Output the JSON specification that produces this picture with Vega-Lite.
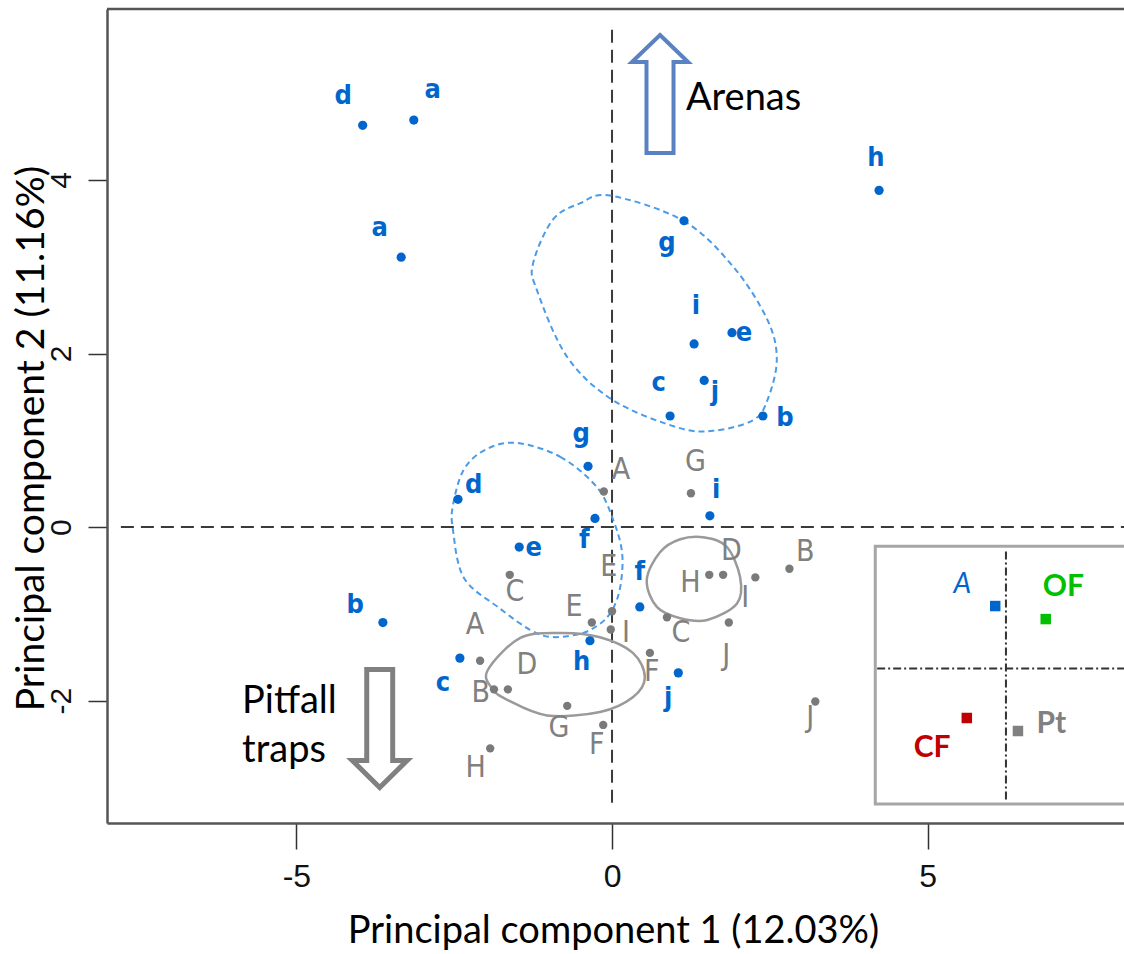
{
  "$schema": "https://vega.github.io/schema/vega-lite/v6.json",
  "width": 1017,
  "height": 814,
  "autosize": {"type": "none"},
  "padding": {"left": 107, "top": 9, "right": 0, "bottom": 131},
  "background": "white",
  "data": {"values": [{}]},
  "config": {
    "view": {"stroke": null},
    "axis": {"grid": false}
  },
  "datasets": {
    "arenas": [
      {"label": "d", "x": -3.95, "y": 4.63, "lx": -4.26, "ly": 4.97},
      {"label": "a", "x": -3.14, "y": 4.69, "lx": -2.84, "ly": 5.04},
      {"label": "a", "x": -3.34, "y": 3.11, "lx": -3.68, "ly": 3.45},
      {"label": "h", "x": 4.23, "y": 3.88, "lx": 4.18, "ly": 4.25},
      {"label": "g", "x": 1.14, "y": 3.53, "lx": 0.87, "ly": 3.27},
      {"label": "i", "x": 1.30, "y": 2.11, "lx": 1.33, "ly": 2.55},
      {"label": "e", "x": 1.90, "y": 2.24, "lx": 2.09, "ly": 2.24},
      {"label": "j", "x": 1.46, "y": 1.69, "lx": 1.63, "ly": 1.56},
      {"label": "c", "x": 0.92, "y": 1.28, "lx": 0.74, "ly": 1.66},
      {"label": "b", "x": 2.39, "y": 1.28, "lx": 2.74, "ly": 1.26},
      {"label": "g", "x": -0.38, "y": 0.70, "lx": -0.49, "ly": 1.07},
      {"label": "d", "x": -2.44, "y": 0.32, "lx": -2.19, "ly": 0.48},
      {"label": "f", "x": -0.27, "y": 0.10, "lx": -0.44, "ly": -0.15},
      {"label": "i", "x": 1.55, "y": 0.13, "lx": 1.65, "ly": 0.43},
      {"label": "e", "x": -1.47, "y": -0.23, "lx": -1.24, "ly": -0.24},
      {"label": "b", "x": -3.63, "y": -1.10, "lx": -4.07, "ly": -0.90},
      {"label": "f", "x": 0.44, "y": -0.92, "lx": 0.44, "ly": -0.52},
      {"label": "h", "x": -0.35, "y": -1.31, "lx": -0.48, "ly": -1.56},
      {"label": "c", "x": -2.41, "y": -1.51, "lx": -2.68, "ly": -1.80},
      {"label": "j", "x": 1.05, "y": -1.68, "lx": 0.89, "ly": -1.97}
    ],
    "pitfall": [
      {"label": "A", "x": -0.13, "y": 0.41, "lx": 0.14, "ly": 0.66},
      {"label": "G", "x": 1.25, "y": 0.39, "lx": 1.32, "ly": 0.75},
      {"label": "H", "x": 1.54, "y": -0.55, "lx": 1.24, "ly": -0.65},
      {"label": "D", "x": 1.76, "y": -0.55, "lx": 1.89, "ly": -0.28},
      {"label": "B", "x": 2.81, "y": -0.48, "lx": 3.06, "ly": -0.29},
      {"label": "I", "x": 2.27, "y": -0.58, "lx": 2.11, "ly": -0.82},
      {"label": "C", "x": -1.62, "y": -0.55, "lx": -1.54, "ly": -0.75},
      {"label": "E", "x": 0.00, "y": -0.97, "lx": -0.05, "ly": -0.46},
      {"label": "E", "x": -0.32, "y": -1.10, "lx": -0.60, "ly": -0.92},
      {"label": "I", "x": -0.02, "y": -1.18, "lx": 0.22, "ly": -1.22},
      {"label": "C", "x": 0.87, "y": -1.04, "lx": 1.09, "ly": -1.22},
      {"label": "F", "x": 0.60, "y": -1.45, "lx": 0.63, "ly": -1.67},
      {"label": "J", "x": 1.85, "y": -1.10, "lx": 1.81, "ly": -1.48},
      {"label": "A", "x": -2.09, "y": -1.54, "lx": -2.17, "ly": -1.13},
      {"label": "B", "x": -1.87, "y": -1.87, "lx": -2.08, "ly": -1.91},
      {"label": "D", "x": -1.65, "y": -1.87, "lx": -1.35, "ly": -1.59},
      {"label": "G", "x": -0.71, "y": -2.06, "lx": -0.84, "ly": -2.31},
      {"label": "F", "x": -0.14, "y": -2.28, "lx": -0.24, "ly": -2.51},
      {"label": "H", "x": -1.93, "y": -2.55, "lx": -2.16, "ly": -2.78},
      {"label": "J", "x": 3.22, "y": -2.01, "lx": 3.14, "ly": -2.20}
    ],
    "blueEllipses": [
      {"group": "upper", "order": 1, "x": -0.03, "y": 3.82},
      {"group": "upper", "order": 2, "x": 1.13, "y": 3.53},
      {"group": "upper", "order": 3, "x": 1.92, "y": 3.00},
      {"group": "upper", "order": 4, "x": 2.46, "y": 2.39},
      {"group": "upper", "order": 5, "x": 2.61, "y": 1.93},
      {"group": "upper", "order": 6, "x": 2.46, "y": 1.46},
      {"group": "upper", "order": 7, "x": 2.23, "y": 1.23},
      {"group": "upper", "order": 8, "x": 1.60, "y": 1.11},
      {"group": "upper", "order": 9, "x": 1.03, "y": 1.15},
      {"group": "upper", "order": 10, "x": 0.02, "y": 1.46},
      {"group": "upper", "order": 11, "x": -0.71, "y": 1.96},
      {"group": "upper", "order": 12, "x": -1.19, "y": 2.73},
      {"group": "upper", "order": 13, "x": -1.25, "y": 3.04},
      {"group": "upper", "order": 14, "x": -0.94, "y": 3.54},
      {"group": "upper", "order": 15, "x": -0.51, "y": 3.73},
      {"group": "lower", "order": 1, "x": -1.52, "y": 0.97},
      {"group": "lower", "order": 2, "x": -0.82, "y": 0.81},
      {"group": "lower", "order": 3, "x": -0.24, "y": 0.46},
      {"group": "lower", "order": 4, "x": 0.02, "y": 0.08},
      {"group": "lower", "order": 5, "x": 0.16, "y": -0.30},
      {"group": "lower", "order": 6, "x": 0.13, "y": -0.69},
      {"group": "lower", "order": 7, "x": 0.00, "y": -0.96},
      {"group": "lower", "order": 8, "x": -0.22, "y": -1.13},
      {"group": "lower", "order": 9, "x": -0.57, "y": -1.24},
      {"group": "lower", "order": 10, "x": -1.14, "y": -1.24},
      {"group": "lower", "order": 11, "x": -1.81, "y": -0.92},
      {"group": "lower", "order": 12, "x": -2.35, "y": -0.58},
      {"group": "lower", "order": 13, "x": -2.52, "y": -0.03},
      {"group": "lower", "order": 14, "x": -2.52, "y": 0.25},
      {"group": "lower", "order": 15, "x": -2.35, "y": 0.66},
      {"group": "lower", "order": 16, "x": -2.01, "y": 0.89}
    ],
    "grayEllipses": [
      {"group": "D", "order": 1, "x": -1.97, "y": -1.65},
      {"group": "D", "order": 2, "x": -1.46, "y": -1.28},
      {"group": "D", "order": 3, "x": -0.82, "y": -1.22},
      {"group": "D", "order": 4, "x": -0.19, "y": -1.27},
      {"group": "D", "order": 5, "x": 0.33, "y": -1.45},
      {"group": "D", "order": 6, "x": 0.52, "y": -1.73},
      {"group": "D", "order": 7, "x": 0.33, "y": -1.96},
      {"group": "D", "order": 8, "x": -0.19, "y": -2.13},
      {"group": "D", "order": 9, "x": -1.03, "y": -2.17},
      {"group": "D", "order": 10, "x": -1.66, "y": -1.99},
      {"group": "D", "order": 11, "x": -1.90, "y": -1.86},
      {"group": "H", "order": 1, "x": 0.55, "y": -0.61},
      {"group": "H", "order": 2, "x": 0.76, "y": -0.29},
      {"group": "H", "order": 3, "x": 1.08, "y": -0.14},
      {"group": "H", "order": 4, "x": 1.47, "y": -0.12},
      {"group": "H", "order": 5, "x": 1.82, "y": -0.23},
      {"group": "H", "order": 6, "x": 2.03, "y": -0.58},
      {"group": "H", "order": 7, "x": 1.98, "y": -0.88},
      {"group": "H", "order": 8, "x": 1.51, "y": -1.07},
      {"group": "H", "order": 9, "x": 1.08, "y": -1.05},
      {"group": "H", "order": 10, "x": 0.71, "y": -0.92}
    ],
    "notes": [
      {"text": "Arenas", "x": 1.17, "y": 4.81},
      {"text": "Pitfall", "x": -5.86, "y": -2.14},
      {"text": "traps", "x": -5.86, "y": -2.71}
    ],
    "inset": [
      {"method": "A", "x": 6.07, "y": -0.91, "lx": 5.55, "ly": -0.67},
      {"method": "OF", "x": 6.87, "y": -1.06, "lx": 7.15, "ly": -0.69},
      {"method": "CF", "x": 5.62, "y": -2.20, "lx": 5.07, "ly": -2.55},
      {"method": "Pt", "x": 6.43, "y": -2.35, "lx": 6.96, "ly": -2.27}
    ]
  },
  "layer": [
    {
      "mark": {"type": "rule", "color": "#3A3A3A", "strokeWidth": 2, "strokeDash": [13, 7]},
      "encoding": {
        "x": {"datum": 0, "type": "quantitative", "scale": {"domain": [-8, 8.11], "nice": false, "zero": false},
          "axis": {
            "values": [-5, 0, 5], "labelExpr": "'' + datum.value", "title": "Principal component 1 (12.03%)",
            "domainColor": "#555555", "domainWidth": 2.5,
            "tickColor": "#333333", "tickWidth": 1.5, "tickSize": 26,
            "labelFont": "Liberation Sans", "labelFontSize": 32, "labelColor": "#111111", "labelPadding": 12,
            "titleFont": "Lato", "titleFontSize": 38, "titleFontWeight": "normal", "titleColor": "#000000",
            "titleX": 506, "titleY": 119, "titleBaseline": "alphabetic", "titleAlign": "center"
          }},
        "y": {"datum": 5.73, "type": "quantitative", "scale": {"domain": [-3.41, 5.97], "nice": false, "zero": false},
          "axis": {
            "values": [-2, 0, 2, 4], "labelExpr": "'' + datum.value", "title": "Principal component 2 (11.16%)",
            "domainColor": "#555555", "domainWidth": 2.5,
            "tickColor": "#333333", "tickWidth": 1.5, "tickSize": 19,
            "labelFont": "Liberation Sans", "labelFontSize": 30, "labelColor": "#111111", "labelAngle": 270, "labelPadding": 12,
            "titleFont": "Lato", "titleFontSize": 39, "titleFontWeight": "normal", "titleColor": "#000000",
            "titleAngle": 270, "titleX": -64, "titleY": 429, "titleBaseline": "alphabetic", "titleAlign": "center"
          }},
        "y2": {"datum": -3.20}
      }
    },
    {
      "mark": {"type": "rule", "color": "#3A3A3A", "strokeWidth": 2, "strokeDash": [13, 7]},
      "encoding": {
        "x": {"datum": -7.78, "type": "quantitative"},
        "x2": {"datum": 8.11},
        "y": {"datum": 0, "type": "quantitative"}
      }
    },
    {
      "mark": {"type": "rule", "color": "#555555", "strokeWidth": 2.5},
      "encoding": {
        "x": {"datum": -8, "type": "quantitative"},
        "x2": {"datum": 8.11},
        "y": {"datum": 5.97, "type": "quantitative"}
      }
    },
    {
      "data": {"name": "blueEllipses"},
      "mark": {"type": "line", "interpolate": "cardinal-closed", "color": "#4A9BE8", "strokeWidth": 2, "strokeDash": [6, 4]},
      "encoding": {
        "x": {"field": "x", "type": "quantitative"},
        "y": {"field": "y", "type": "quantitative"},
        "detail": {"field": "group"},
        "order": {"field": "order", "type": "quantitative"}
      }
    },
    {
      "data": {"name": "grayEllipses"},
      "mark": {"type": "line", "interpolate": "cardinal-closed", "color": "#9A9A9A", "strokeWidth": 2.5},
      "encoding": {
        "x": {"field": "x", "type": "quantitative"},
        "y": {"field": "y", "type": "quantitative"},
        "detail": {"field": "group"},
        "order": {"field": "order", "type": "quantitative"}
      }
    },
    {
      "data": {"name": "pitfall"},
      "mark": {"type": "circle", "color": "#7A7A7A", "size": 70, "opacity": 1},
      "encoding": {
        "x": {"field": "x", "type": "quantitative"},
        "y": {"field": "y", "type": "quantitative"}
      }
    },
    {
      "data": {"name": "pitfall"},
      "mark": {"type": "text", "font": "DejaVu Sans Condensed, Liberation Sans, sans-serif", "fontSize": 30, "color": "#808080", "align": "center", "baseline": "middle"},
      "encoding": {
        "x": {"field": "lx", "type": "quantitative"},
        "y": {"field": "ly", "type": "quantitative"},
        "text": {"field": "label"}
      }
    },
    {
      "data": {"name": "arenas"},
      "mark": {"type": "circle", "color": "#0066CC", "size": 85, "opacity": 1},
      "encoding": {
        "x": {"field": "x", "type": "quantitative"},
        "y": {"field": "y", "type": "quantitative"}
      }
    },
    {
      "data": {"name": "arenas"},
      "mark": {"type": "text", "font": "DejaVu Sans Condensed, Liberation Sans, sans-serif", "fontWeight": "bold", "fontSize": 27, "color": "#0066CC", "align": "center", "baseline": "middle"},
      "encoding": {
        "x": {"field": "lx", "type": "quantitative"},
        "y": {"field": "ly", "type": "quantitative"},
        "text": {"field": "label"}
      }
    },
    {
      "mark": {"type": "point", "shape": "M0,-1L0.475,-0.542L0.229,-0.542L0.229,1L-0.229,1L-0.229,-0.542L-0.475,-0.542Z", "size": 13924, "filled": true, "fill": "white", "fillOpacity": 1, "stroke": "#5A82C2", "strokeWidth": 4, "opacity": 1},
      "encoding": {
        "x": {"datum": 0.76, "type": "quantitative"},
        "y": {"datum": 4.99, "type": "quantitative"}
      }
    },
    {
      "mark": {"type": "point", "shape": "M0,1L0.466,0.542L0.22,0.542L0.22,-1L-0.22,-1L-0.22,0.542L-0.466,0.542Z", "size": 13924, "filled": true, "fill": "white", "fillOpacity": 1, "stroke": "#808080", "strokeWidth": 5, "opacity": 1},
      "encoding": {
        "x": {"datum": -3.68, "type": "quantitative"},
        "y": {"datum": -2.32, "type": "quantitative"}
      }
    },
    {
      "data": {"name": "notes"},
      "mark": {"type": "text", "font": "Lato", "fontSize": 38, "color": "#000000", "align": "left", "baseline": "alphabetic"},
      "encoding": {
        "x": {"field": "x", "type": "quantitative"},
        "y": {"field": "y", "type": "quantitative"},
        "text": {"field": "text"}
      }
    },
    {
      "mark": {"type": "rect", "fill": "white", "stroke": "#A6A6A6", "strokeWidth": 3, "clip": true},
      "encoding": {
        "x": {"datum": 4.17, "type": "quantitative"},
        "x2": {"datum": 8.8},
        "y": {"datum": -0.22, "type": "quantitative"},
        "y2": {"datum": -3.19}
      }
    },
    {
      "mark": {"type": "rule", "color": "#333333", "strokeWidth": 2, "strokeDash": [8, 3, 2, 3]},
      "encoding": {
        "x": {"datum": 6.24, "type": "quantitative"},
        "y": {"datum": -0.28, "type": "quantitative"},
        "y2": {"datum": -3.14}
      }
    },
    {
      "mark": {"type": "rule", "color": "#333333", "strokeWidth": 2, "strokeDash": [8, 3, 2, 3]},
      "encoding": {
        "x": {"datum": 4.2, "type": "quantitative"},
        "x2": {"datum": 8.11},
        "y": {"datum": -1.63, "type": "quantitative"}
      }
    },
    {
      "data": {"name": "inset"},
      "mark": {"type": "point", "shape": "square", "filled": true, "size": 110, "opacity": 1},
      "encoding": {
        "x": {"field": "x", "type": "quantitative"},
        "y": {"field": "y", "type": "quantitative"},
        "color": {"field": "method", "type": "nominal", "legend": null,
          "scale": {"domain": ["A", "OF", "CF", "Pt"], "range": ["#0066CC", "#00C000", "#C00000", "#808080"]}}
      }
    },
    {
      "data": {"name": "inset"},
      "transform": [{"filter": "datum.method !== 'A'"}],
      "mark": {"type": "text", "font": "Lato", "fontSize": 30, "fontWeight": "bold", "align": "center", "baseline": "middle"},
      "encoding": {
        "x": {"field": "lx", "type": "quantitative"},
        "y": {"field": "ly", "type": "quantitative"},
        "text": {"field": "method"},
        "color": {"field": "method", "type": "nominal", "legend": null}
      }
    },
    {
      "data": {"name": "inset"},
      "transform": [{"filter": "datum.method === 'A'"}],
      "mark": {"type": "text", "font": "Lato", "fontSize": 28, "fontStyle": "italic", "fontWeight": "normal", "align": "center", "baseline": "middle"},
      "encoding": {
        "x": {"field": "lx", "type": "quantitative"},
        "y": {"field": "ly", "type": "quantitative"},
        "text": {"field": "method"},
        "color": {"field": "method", "type": "nominal", "legend": null}
      }
    }
  ]
}
